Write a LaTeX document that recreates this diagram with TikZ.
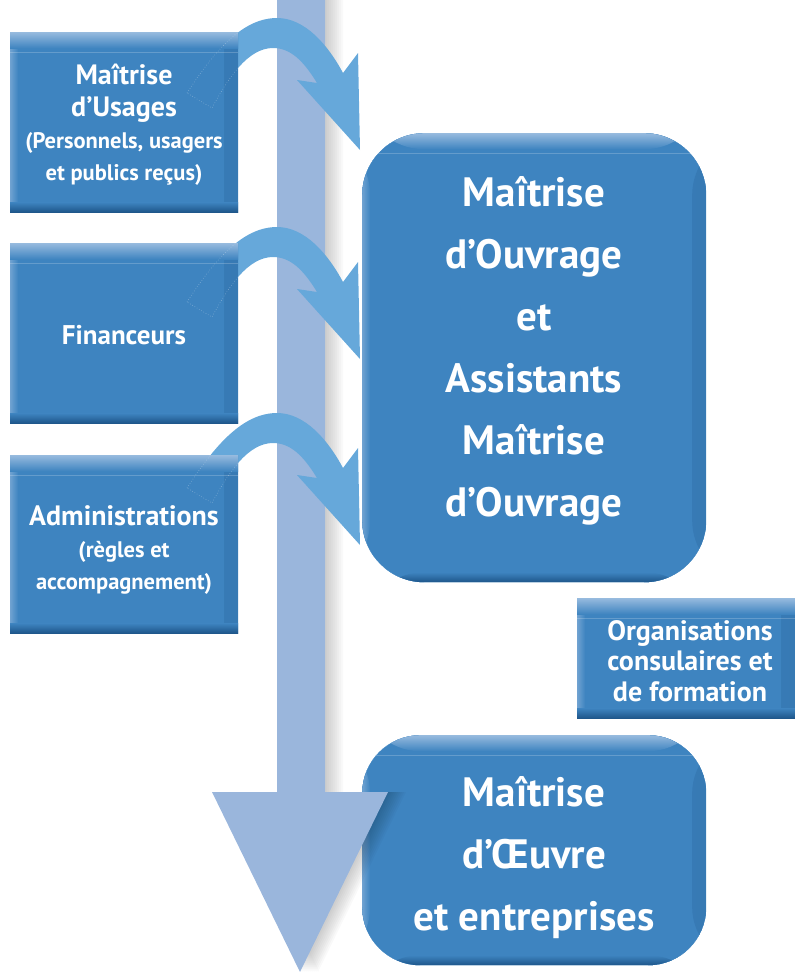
\documentclass[tikz,border=0pt]{standalone}
\usepackage{fontspec}
\setmainfont{PT Sans}
\begin{document}
\definecolor{boxblue}{RGB}{62,132,192}
\definecolor{boxdark}{RGB}{30,86,138}
\definecolor{boxtop}{RGB}{150,186,222}
\definecolor{bendblue}{RGB}{102,168,218}
\definecolor{flowblue}{RGB}{154,182,220}
\newcommand\titlesize{\fontsize{28}{32}\selectfont}
\newcommand\notesize{\fontsize{22.5}{32}\selectfont}
\newcommand\bigsize{\fontsize{41}{62}\selectfont}
\newcommand\orgsize{\fontsize{28}{30.5}\selectfont}
\tikzset{
  panel/.style={fill=boxblue, inner sep=0pt, anchor=north west,
    path picture={
      \fill[left color=boxblue, right color=boxblue!78!boxdark]
        ([xshift=-14pt]path picture bounding box.south east) rectangle (path picture bounding box.north east);
      \fill[left color=boxtop!55!boxblue, right color=boxblue]
        (path picture bounding box.south west) rectangle ([xshift=8pt]path picture bounding box.north west);
      \fill[top color=boxtop, bottom color=boxblue]
        (path picture bounding box.north west) rectangle ([yshift=-16pt]path picture bounding box.north east);
      \fill[top color=boxblue, bottom color=boxdark]
        ([yshift=10pt]path picture bounding box.south west) rectangle (path picture bounding box.south east);
      \draw[white, opacity=.2, line width=.8pt]
        ([yshift=-20pt]path picture bounding box.north west) -- ([yshift=-20pt]path picture bounding box.north east);
    }},
  paneltext/.style={text=white, align=center, inner sep=0pt},
  bendarrow/.style={fill=bendblue},
  bendtrace/.style={draw=white, opacity=.35, dotted, line width=.6pt},
}
% outline of one bent arrow, tail behind a side panel, head on the main panel
\newcommand\bendpath{(187,93) .. controls (215,50) and (243,18) .. (277,18)
  .. controls (305,18) and (328,45) .. (343,73)
  -- (358,53) -- (360,150) -- (297,80) -- (317,83)
  .. controls (303,60) and (290,48) .. (273,48)
  .. controls (248,48) and (228,78) .. (212,108) -- cycle}
\newcommand\flowpath{(277,0) -- (277,792) -- (212,792) -- (300,972) -- (388,792) -- (325,792) -- (325,0) -- cycle}
\begin{tikzpicture}[x=1pt, y=-1pt]
\useasboundingbox (0,0) rectangle (795,972);

% main panels on the right
\node[panel, rounded corners=62pt, minimum width=344pt, minimum height=449pt] (moa) at (362,133) {};
\node[panel, minimum width=218pt, minimum height=120pt] (orga) at (577,598) {};
\node[panel, rounded corners=58pt, minimum width=344pt, minimum height=230pt] (moe) at (362,735) {};

\node[paneltext, font=\bfseries\bigsize] (moa-text) at (534,351)
  {Maîtrise\\d’Ouvrage\\et\\Assistants\\Maîtrise\\d’Ouvrage};
\node[paneltext, font=\bfseries\orgsize] (orga-text) at (690,661)
  {Organisations\\consulaires et\\de formation};
\node[paneltext, font=\bfseries\bigsize] (moe-text) at (534,858)
  {Maîtrise\\d’Œuvre\\et entreprises};

% vertical flow arrow with its soft shadow
\foreach \s in {2,4,...,18}
  \fill[black, opacity=.022, xshift=\s pt] \flowpath;
\fill[flowblue] \flowpath;

% bent arrows from the side panels
\foreach \dy in {0,209,395}{
  \begin{scope}[shift={(0,\dy)}]
    \fill[bendarrow] \bendpath;
  \end{scope}
}

% side panels
\node[panel, minimum width=228pt, minimum height=180pt] (usages) at (10,32) {};
\node[panel, minimum width=228pt, minimum height=180pt] (fin) at (10,243) {};
\node[panel, minimum width=228pt, minimum height=178pt] (admin) at (10,455) {};

\node[paneltext, font=\bfseries\notesize] (usages-text) at (124,125)
  {\titlesize Maîtrise\\\titlesize d’Usages\\(Personnels, usagers\\et publics reçus)};
\node[paneltext, font=\bfseries\fontsize{27}{30}\selectfont] (fin-text) at (124,335)
  {Financeurs};
\node[paneltext, font=\bfseries\notesize] (admin-text) at (124,550)
  {\titlesize Administrations\\(règles et\\accompagnement)};

% traces of the arrow tails seen through the side panels
\foreach \dy/\p in {0/usages,209/fin,395/admin}{
  \begin{scope}
    \clip (\p.south west) rectangle (\p.north east);
    \begin{scope}[shift={(0,\dy)}]
      \draw[bendtrace] \bendpath;
    \end{scope}
  \end{scope}
}
\end{tikzpicture}
\end{document}
